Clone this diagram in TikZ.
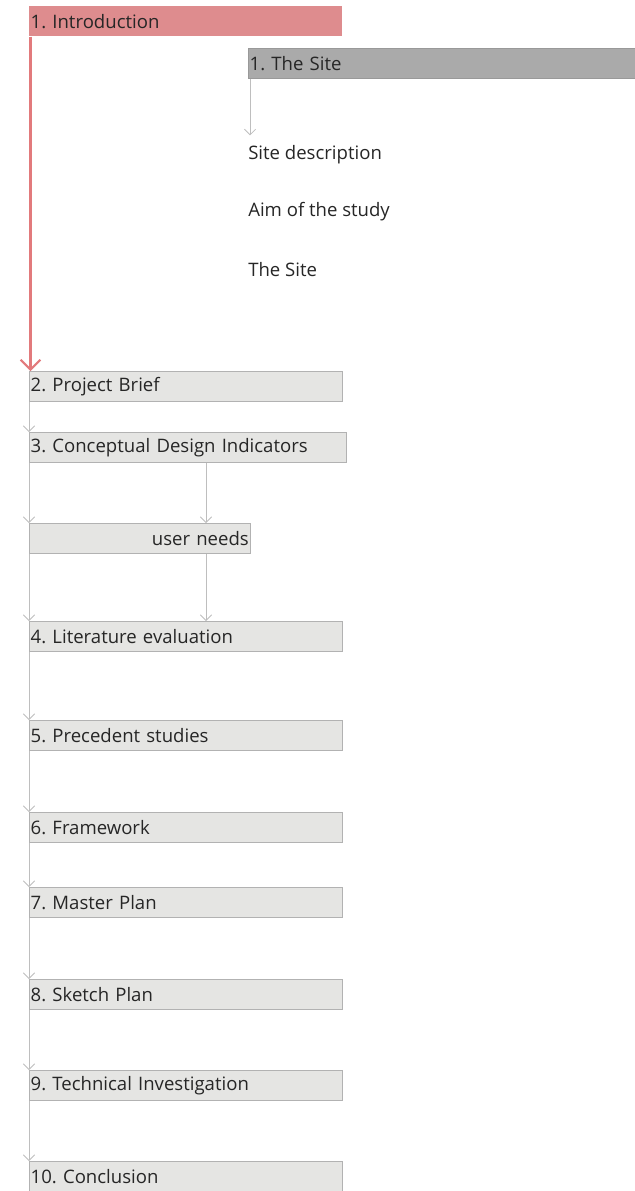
\documentclass[tikz,border=0pt]{standalone}
\usepackage{fontspec}
\setmainfont{Open Sans}
\usepackage{tikz}
\usetikzlibrary{arrows.meta, calc}
\definecolor{introfill}{RGB}{222,140,142}
\definecolor{introline}{RGB}{226,122,124}
\definecolor{sitefill}{RGB}{170,170,170}
\definecolor{boxfill}{RGB}{229,229,227}
\definecolor{boxline}{RGB}{178,178,178}
\definecolor{conline}{RGB}{190,190,190}
\frenchspacing

\begin{document}
\begin{tikzpicture}[x=0.025cm, y=-0.025cm,
    font=\fontsize{13.2}{15}\selectfont,
    box/.style={rectangle, draw=boxline, fill=boxfill, anchor=north west, text width=#1, align=left, minimum height=0.75cm, inner xsep=1pt, inner ysep=0pt, text=black!85},
    box/.default=7.75cm,
    item/.style={anchor=west, inner sep=0pt, text=black!85},
    arrow/.style={-{Straight Barb[length=4pt, width=8pt]}, conline, line width=0.6pt},
    mainarrow/.style={-{Straight Barb[length=7pt, width=14pt, line width=1.4pt]}, introline, line width=2pt}
]
    \useasboundingbox (0,0) rectangle (634,1191);

    % Introduction
    \node[box, draw=none, fill=introfill] (intro) at (29,6) {1. Introduction};
    \node[box=9.6cm, draw=sitefill!90!black, fill=sitefill] (site) at (248,48) {1. The Site};
    \node[item] (desc) at (248,155) {Site description};
    \node[item] (aim) at (248,212) {Aim of the study};
    \node[item] (thesite) at (248,270) {The Site};

    % Chapters
    \node[box] (brief) at (29,371) {2. Project Brief};
    \node[box=7.85cm] (cdi) at (29,432) {3. Conceptual Design Indicators};
    \node[box=5.45cm, align=right] (needs) at (29,523) {user needs};
    \node[box] (lit) at (29,621) {4. Literature evaluation};
    \node[box] (prec) at (29,720) {5. Precedent studies};
    \node[box] (frame) at (29,812) {6. Framework};
    \node[box] (master) at (29,887) {7. Master Plan};
    \node[box] (sketch) at (29,979) {8. Sketch Plan};
    \node[box] (tech) at (29,1070) {9. Technical Investigation};
    \node[box] (concl) at (29,1161) {10. Conclusion};

    % Arrows
    \draw[mainarrow] ($(intro.south west)+(1.5,0)$) -- ($(brief.north west)+(1.5,0)$);
    \draw[arrow] ($(site.south west)+(2,0)$) -- ($(desc.north west)+(2,-10)$);
    \draw[arrow] (brief.south west) -- (cdi.north west);
    \draw[arrow] (cdi.south west) -- (needs.north west);
    \draw[arrow] (needs.south west) -- (lit.north west);
    \draw[arrow] ($(cdi.south west)+(177,0)$) -- ($(needs.north west)+(177,0)$);
    \draw[arrow] ($(needs.south west)+(177,0)$) -- ($(lit.north west)+(177,0)$);
    \draw[arrow] (lit.south west) -- (prec.north west);
    \draw[arrow] (prec.south west) -- (frame.north west);
    \draw[arrow] (frame.south west) -- (master.north west);
    \draw[arrow] (master.south west) -- (sketch.north west);
    \draw[arrow] (sketch.south west) -- (tech.north west);
    \draw[arrow] (tech.south west) -- (concl.north west);
\end{tikzpicture}
\end{document}
